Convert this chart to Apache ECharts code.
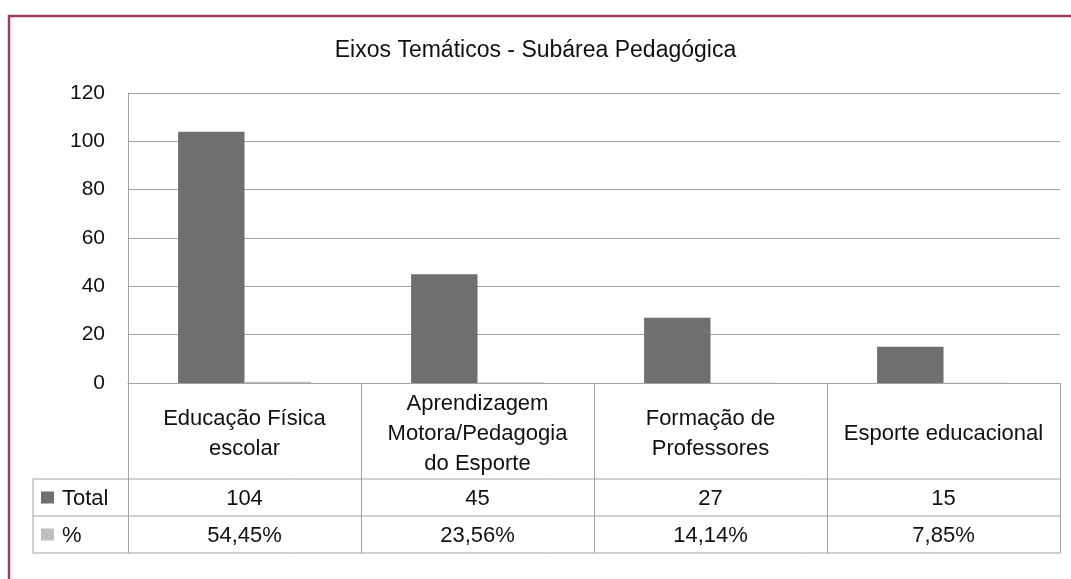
<!DOCTYPE html>
<html lang="pt">
<head>
    <meta charset="UTF-8">
    <title>Eixos Temáticos - Subárea Pedagógica</title>
    <script src="https://cdn.jsdelivr.net/npm/echarts/dist/echarts.min.js"></script>
    <style>
        html, body { margin: 0; padding: 0; background: #fff; }
        #chart { width: 1071px; height: 579px; }
    </style>
</head>
<body>
    <div id="chart"></div>
    <script>
        // chart data
        var categories = ['Educação Física\nescolar', 'Aprendizagem\nMotora/Pedagogia\ndo Esporte', 'Formação de\nProfessores', 'Esporte educacional'];
        var totalValues = [104, 45, 27, 15];
        var pctValues = [54.45, 23.56, 14.14, 7.85];
        var yTicks = [0, 20, 40, 60, 80, 100, 120];

        var FONT = '"Liberation Sans", Arial, sans-serif';
        var darkGray = '#6f6f6f';
        var lightGray = '#bfbfbf';
        var lineGray = '#a3a3a3';

        var chartDom = document.getElementById('chart');
        var myChart = echarts.init(chartDom);

        var option = {
            animation: false,
            title: {
                text: 'Eixos Temáticos - Subárea Pedagógica',
                left: 'center',
                top: 34,
                textStyle: { fontFamily: FONT, fontSize: 23, fontWeight: 'normal', color: '#111' }
            },
            grid: { left: 128, right: 11, top: 93, bottom: 196 },
            xAxis: {
                type: 'category',
                data: categories,
                axisLine: { lineStyle: { color: lineGray, width: 1 } },
                // long ticks double as the table's column dividers
                axisTick: { show: true, length: 170, lineStyle: { color: lineGray, width: 1 } },
                axisLabel: {
                    margin: 51,
                    verticalAlign: 'middle',
                    fontFamily: FONT,
                    fontSize: 22,
                    lineHeight: 30,
                    color: '#111',
                    interval: 0
                }
            },
            yAxis: {
                type: 'value',
                min: yTicks[0],
                max: yTicks[yTicks.length - 1],
                interval: 20,
                axisLine: { show: true, lineStyle: { color: lineGray, width: 1 } },
                axisTick: { show: false },
                axisLabel: { margin: 23, fontFamily: FONT, fontSize: 21, color: '#111' },
                splitLine: { lineStyle: { color: lineGray, width: 1 } }
            },
            series: [
                {
                    name: 'Total',
                    type: 'bar',
                    data: totalValues,
                    barGap: '0%',
                    barCategoryGap: '43%',
                    itemStyle: { color: darkGray }
                },
                {
                    name: '%',
                    type: 'bar',
                    data: pctValues.map(function (v) { return v / 100; }),
                    itemStyle: { color: lightGray }
                }
            ]
        };

        myChart.setOption(option);

        // data table under the axis
        var tableLeft = 33, row1 = 479, row2 = 516, row3 = 553, tableRight = 1060;
        var g = [];
        g.push({ type: 'rect', shape: { x: 9, y: 16, width: 1100, height: 620 }, style: { fill: null, stroke: '#a23b60', lineWidth: 2.5 }, silent: true });
        [row1, row2, row3].forEach(function (y) {
            g.push({ type: 'line', shape: { x1: tableLeft, y1: y, x2: tableRight, y2: y }, style: { stroke: lineGray, lineWidth: 1 } });
        });
        g.push({ type: 'line', shape: { x1: tableLeft, y1: row1, x2: tableLeft, y2: row3 }, style: { stroke: lineGray, lineWidth: 1 } });

        // legend keys + row names
        g.push({ type: 'rect', shape: { x: 41, y: (row1 + row2) / 2 - 6, width: 13, height: 12 }, style: { fill: darkGray } });
        g.push({ type: 'text', x: 62, y: (row1 + row2) / 2 + 1, style: { text: 'Total', font: '22px ' + FONT, fill: '#111', verticalAlign: 'middle' } });
        g.push({ type: 'rect', shape: { x: 41, y: (row2 + row3) / 2 - 6, width: 13, height: 12 }, style: { fill: lightGray } });
        g.push({ type: 'text', x: 62, y: (row2 + row3) / 2 + 1, style: { text: '%', font: '22px ' + FONT, fill: '#111', verticalAlign: 'middle' } });

        categories.forEach(function (c, i) {
            var cx = myChart.convertToPixel({ xAxisIndex: 0 }, c);
            g.push({ type: 'text', x: cx, y: (row1 + row2) / 2 + 1, style: { text: String(totalValues[i]), font: '22px ' + FONT, fill: '#111', align: 'center', verticalAlign: 'middle' } });
            g.push({ type: 'text', x: cx, y: (row2 + row3) / 2 + 1, style: { text: pctValues[i].toFixed(2).replace('.', ',') + '%', font: '22px ' + FONT, fill: '#111', align: 'center', verticalAlign: 'middle' } });
        });

        myChart.setOption({ graphic: g });
    </script>
</body>
</html>
